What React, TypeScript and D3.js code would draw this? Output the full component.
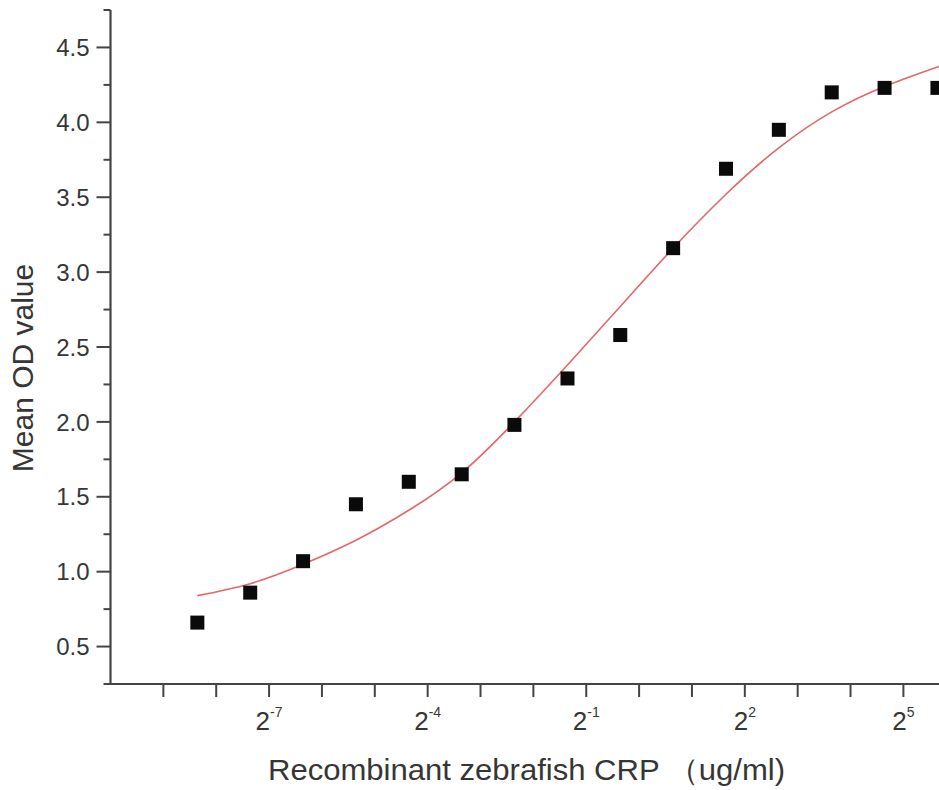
import React, { useEffect, useRef } from "react";
import * as d3 from "d3";

// CRP concentration (ug/ml), two-fold dilution series
const concentrations = [
  0.00305, 0.0061, 0.0122, 0.0244, 0.0488, 0.0977, 0.195, 0.391, 0.781, 1.5625,
  3.125, 6.25, 12.5, 25, 50,
];
// measured mean OD
const meanOD = [
  0.66, 0.86, 1.07, 1.45, 1.6, 1.65, 1.98, 2.29, 2.58, 3.16, 3.69, 3.95, 4.2,
  4.23, 4.23,
];
// fitted curve
const fitConc = [
  0.00305, 0.0061, 0.0122, 0.0244, 0.0488, 0.0977, 0.195, 0.391, 0.781, 1.5625,
  3.125, 6.25, 12.5, 25, 50, 53,
];
const fitOD = [
  0.84, 0.92, 1.05, 1.21, 1.41, 1.66, 2.0, 2.38, 2.77, 3.16, 3.52, 3.83, 4.07,
  4.24, 4.37, 4.38,
];
const yMajor = [0.5, 1.0, 1.5, 2.0, 2.5, 3.0, 3.5, 4.0, 4.5];
const yMinor = [0.25, 0.75, 1.25, 1.75, 2.25, 2.75, 3.25, 3.75, 4.25, 4.75];
const xTickExp = [-9, -8, -7, -6, -5, -4, -3, -2, -1, 0, 1, 2, 3, 4, 5];
const xLabelExp = [-7, -4, -1, 2, 5];

const FONT = "'Liberation Sans', Arial, sans-serif";
const INK = "#363636";

const App = () => {
  const ref = useRef<SVGSVGElement>(null);

  useEffect(() => {
    const svg = d3.select(ref.current);
    svg.selectAll("*").remove();

    const x = d3
      .scaleLog()
      .base(2)
      .domain([Math.pow(2, -10), Math.pow(2, 5.75)])
      .range([110.5, 110.5 + 15.75 * 52.86]);
    const y = d3.scaleLinear().domain([0.25, 4.75]).range([684, 10]);

    // y axis
    const yAxis = svg.append("g").attr("transform", `translate(${x.range()[0]},0)`);
    yAxis
      .append("line")
      .attr("y1", y(4.75))
      .attr("y2", y(0.25))
      .attr("stroke", "#444")
      .attr("stroke-width", 2.2);
    yAxis
      .selectAll(".ymaj")
      .data(yMajor)
      .enter()
      .append("line")
      .attr("x1", -14)
      .attr("x2", 0)
      .attr("y1", (d) => y(d))
      .attr("y2", (d) => y(d))
      .attr("stroke", "#444")
      .attr("stroke-width", 2);
    yAxis
      .selectAll(".ymin")
      .data(yMinor)
      .enter()
      .append("line")
      .attr("x1", -7)
      .attr("x2", 0)
      .attr("y1", (d) => y(d))
      .attr("y2", (d) => y(d))
      .attr("stroke", "#444")
      .attr("stroke-width", 2);
    yAxis
      .selectAll(".ylab")
      .data(yMajor)
      .enter()
      .append("text")
      .attr("x", -21)
      .attr("y", (d) => y(d))
      .attr("dy", "0.36em")
      .attr("text-anchor", "end")
      .attr("font-family", FONT)
      .attr("font-size", 24)
      .attr("fill", INK)
      .text((d) => d.toFixed(1));

    // x axis
    const xAxis = svg.append("g").attr("transform", `translate(0,${y(0.25)})`);
    xAxis
      .append("line")
      .attr("x1", x.range()[0] - 1)
      .attr("x2", 939)
      .attr("stroke", "#444")
      .attr("stroke-width", 2.2);
    xAxis
      .selectAll(".xt")
      .data(xTickExp)
      .enter()
      .append("line")
      .attr("x1", (d) => x(Math.pow(2, d)))
      .attr("x2", (d) => x(Math.pow(2, d)))
      .attr("y1", 0)
      .attr("y2", 13)
      .attr("stroke", "#444")
      .attr("stroke-width", 2);
    const xl = xAxis
      .selectAll(".xlab")
      .data(xLabelExp)
      .enter()
      .append("text")
      .attr("x", (d) => x(Math.pow(2, d)))
      .attr("y", 46)
      .attr("text-anchor", "middle")
      .attr("font-family", FONT)
      .attr("fill", INK);
    xl.append("tspan").attr("font-size", 26).text("2");
    xl.append("tspan")
      .attr("font-size", 14)
      .attr("dy", -13)
      .text((d) => String(d));

    // fitted curve
    const line = d3
      .line<number>()
      .x((_, i) => x(fitConc[i]))
      .y((d) => y(d))
      .curve(d3.curveNatural);
    svg
      .append("path")
      .datum(fitOD)
      .attr("fill", "none")
      .attr("stroke", "#e3676b")
      .attr("stroke-width", 1.6)
      .attr("d", line);

    // data points
    const s = 14;
    svg
      .selectAll(".pt")
      .data(meanOD)
      .enter()
      .append("rect")
      .attr("x", (_, i) => x(concentrations[i]) - s / 2)
      .attr("y", (d) => y(d) - s / 2)
      .attr("width", s)
      .attr("height", s)
      .attr("fill", "#0a0a0a");

    // axis titles
    svg
      .append("text")
      .attr("x", 268)
      .attr("y", 780)
      .attr("font-family", FONT)
      .attr("font-size", 30)
      .attr("fill", INK)
      .attr("textLength", 517)
      .attr("lengthAdjust", "spacingAndGlyphs")
      .text("Recombinant zebrafish CRP （ug/ml)");
    svg
      .append("text")
      .attr("transform", "translate(33,368) rotate(-90)")
      .attr("text-anchor", "middle")
      .attr("font-family", FONT)
      .attr("font-size", 30)
      .attr("fill", INK)
      .text("Mean OD value");
  }, []);

  return (
    <svg
      ref={ref}
      width={939}
      height={790}
      style={{ position: "absolute", left: 0, top: 0, background: "#fff" }}
    />
  );
};

export default App;
